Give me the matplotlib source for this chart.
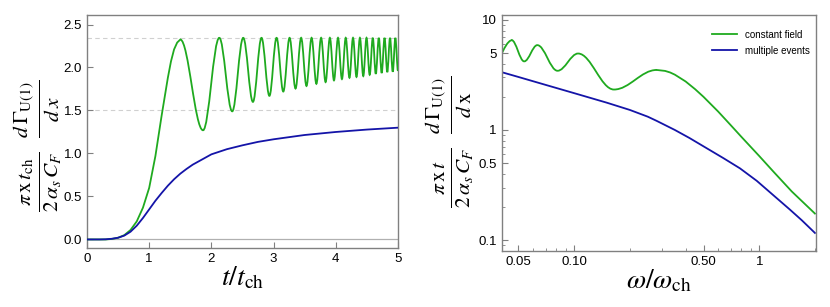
import matplotlib.pyplot as plt
from matplotlib.path import Path
from matplotlib.patches import PathPatch
from matplotlib.ticker import FixedLocator, LogLocator, NullFormatter

plt.rcParams['font.family'] = ['Liberation Sans', 'DejaVu Sans']
plt.rcParams['mathtext.fontset'] = 'stix'

green = '#1faa1f'
blue = '#1414a8'

# left panel, time dependence
t_rise = [0.0, 0.3, 0.4, 0.5, 0.6, 0.7, 0.8, 0.9, 1.0, 1.1, 1.2, 1.3, 1.35, 1.4, 1.45, 1.5]
y_rise = [0.0, 0.0, 0.006, 0.02, 0.05, 0.11, 0.21, 0.37, 0.60, 0.97, 1.44, 1.88, 2.07, 2.21, 2.29, 2.325]

t_peak = [1.500, 2.127, 2.512, 2.806, 3.048, 3.257, 3.443, 3.611, 3.764, 3.905,
          4.036, 4.160, 4.277, 4.388, 4.494, 4.595, 4.692, 4.784, 4.872, 4.958]
y_peak = [2.325] + [2.345] * 19
t_trough = [1.866, 2.335, 2.668, 2.933, 3.156, 3.353, 3.529, 3.688, 3.836, 3.971,
            4.099, 4.220, 4.333, 4.442, 4.545, 4.643, 4.738, 4.828, 4.916, 5.000]
y_trough = [1.27, 1.49, 1.60, 1.67, 1.72, 1.755, 1.785, 1.81, 1.83, 1.85,
            1.865, 1.88, 1.89, 1.90, 1.915, 1.925, 1.935, 1.945, 1.95, 1.96]

t_multi = [0.0, 0.2, 0.3, 0.4, 0.5, 0.6, 0.7, 0.8, 0.9, 1.0, 1.1, 1.2, 1.3, 1.4, 1.5,
           1.6, 1.7, 1.8, 2.0, 2.25, 2.5, 2.75, 3.0, 3.5, 4.0, 4.5, 5.0]
y_multi = [0.0, 0.0, 0.002, 0.008, 0.02, 0.045, 0.09, 0.16, 0.25, 0.35, 0.45, 0.54, 0.625,
           0.70, 0.765, 0.82, 0.87, 0.91, 0.99, 1.05, 1.095, 1.135, 1.165, 1.215, 1.25, 1.278, 1.30]

ref_levels = [2.345, 1.5]

# right panel, spectrum
w_start = [0.0406, 0.042, 0.0435, 0.0448, 0.0459]
s_start = [4.95, 5.55, 6.1, 6.42, 6.55]
w_ext = [0.0459, 0.0537, 0.0632, 0.0813, 0.105, 0.164, 0.279]
s_ext = [6.55, 4.2, 5.9, 3.45, 4.95, 2.33, 3.51]
w_tail = [0.279, 0.31, 0.33, 0.35, 0.40, 0.45, 0.5, 0.6, 0.7, 0.8, 1.0, 1.2, 1.5, 2.0]
s_tail = [3.51, 3.44, 3.33, 3.18, 2.76, 2.35, 2.00, 1.47, 1.11, 0.868, 0.58, 0.414, 0.276, 0.174]

w_multi = [0.0406, 0.05, 0.07, 0.1, 0.15, 0.2, 0.25, 0.279, 0.35, 0.42, 0.5, 0.64,
           0.787, 0.97, 1.19, 1.46, 1.7, 2.0]
s_multi = [3.35, 3.03, 2.57, 2.16, 1.77, 1.52, 1.32, 1.21, 1.0, 0.845, 0.71, 0.555,
           0.448, 0.345, 0.256, 0.19, 0.151, 0.116]


def wave(xs, ys, logx=False, a=0.364):
    # smooth curve through extrema, flat tangent at each one
    verts = [(xs[0], ys[0])]
    codes = [Path.MOVETO]
    for i in range(len(xs) - 1):
        x0, x1 = xs[i], xs[i + 1]
        if logx:
            c0 = x0 * (x1 / x0) ** a
            c1 = x1 * (x0 / x1) ** a
        else:
            c0 = x0 + a * (x1 - x0)
            c1 = x1 - a * (x1 - x0)
        verts += [(c0, ys[i]), (c1, ys[i + 1]), (x1, ys[i + 1])]
        codes += [Path.CURVE4] * 3
    return Path(verts, codes)


def style_axes(ax):
    for s in ax.spines.values():
        s.set_color('#808080')
        s.set_linewidth(1.0)
    ax.tick_params(which='both', direction='in', color='#808080', labelsize=9.5,
                   top=False, right=False)
    ax.tick_params(which='major', length=4)
    ax.tick_params(which='minor', length=2)


fig = plt.figure(figsize=(8.3, 3.07), dpi=100)
ax1 = fig.add_axes([0.1048, 0.192, 0.3747, 0.759])
ax2 = fig.add_axes([0.6045, 0.1834, 0.3783, 0.768])

# left
for lv in ref_levels:
    ax1.axhline(lv, color='#d0d0d0', lw=0.8, ls=(0, (4, 3)), zorder=1)
ax1.axhline(0, color='#b0b0b0', lw=0.9, zorder=1)

xs, ys = [], []
for i in range(len(t_peak)):
    xs += [t_peak[i], t_trough[i]]
    ys += [y_peak[i], y_trough[i]]
ax1.plot(t_rise, y_rise, color=green, lw=1.3, zorder=3)
ax1.add_patch(PathPatch(wave(xs, ys), fill=False, edgecolor=green, lw=1.3, zorder=3))
ax1.plot(t_multi, y_multi, color=blue, lw=1.3, zorder=4)

ax1.set_xlim(0, 5)
ax1.set_ylim(-0.1, 2.61)
ax1.xaxis.set_major_locator(FixedLocator([0, 1, 2, 3, 4, 5]))
ax1.yaxis.set_major_locator(FixedLocator([0.0, 0.5, 1.0, 1.5, 2.0, 2.5]))
ax1.set_yticklabels(['0.0', '0.5', '1.0', '1.5', '2.0', '2.5'])
style_axes(ax1)
ax1.set_xlabel(r'$t/t_{\mathrm{ch}}$', fontsize=20, labelpad=0)
ax1.set_ylabel(r'$\frac{\pi\,\mathrm{x}\,t_{\mathrm{ch}}}{2\,\alpha_s\,C_F}\;\;'
               r'\frac{d\,\Gamma_{\mathrm{U(1)}}}{d\,x}$', fontsize=22)
ax1.yaxis.set_label_coords(-0.075, 0.44)

# right
ax2.set_xscale('log')
ax2.set_yscale('log')
ax2.plot(w_start, s_start, color=green, lw=1.3)
ax2.add_patch(PathPatch(wave(w_ext, s_ext, logx=True), fill=False, edgecolor=green, lw=1.3))
ax2.plot(w_tail, s_tail, color=green, lw=1.3, label='constant field')
ax2.plot(w_multi, s_multi, color=blue, lw=1.3, label='multiple events')

ax2.set_xlim(0.0406, 2.02)
ax2.set_ylim(0.08, 11.1)
ax2.xaxis.set_major_locator(FixedLocator([0.05, 0.1, 0.5, 1]))
ax2.set_xticklabels(['0.05', '0.10', '0.50', '1'])
ax2.xaxis.set_minor_locator(LogLocator(base=10, subs=range(1, 10)))
ax2.xaxis.set_minor_formatter(NullFormatter())
ax2.yaxis.set_major_locator(FixedLocator([0.1, 0.5, 1, 5, 10]))
ax2.set_yticklabels(['0.1', '0.5', '1', '5', '10'])
ax2.yaxis.set_minor_locator(LogLocator(base=10, subs=range(1, 10)))
ax2.yaxis.set_minor_formatter(NullFormatter())
style_axes(ax2)
ax2.set_xlabel(r'$\omega/\omega_{\mathrm{ch}}$', fontsize=20, labelpad=0)
ax2.set_ylabel(r'$\frac{\pi\,\mathrm{x}\,t}{2\,\alpha_s\,C_F}\;\;'
               r'\frac{d\,\Gamma_{\mathrm{U(1)}}}{d\,\mathrm{x}}$', fontsize=22)
ax2.yaxis.set_label_coords(-0.082, 0.46)
ax2.legend(loc='upper right', bbox_to_anchor=(1.0, 0.962), frameon=False, fontsize=7,
           handlelength=2.6, borderaxespad=0.2, labelspacing=0.6)

fig.savefig('out.png', dpi=100)
